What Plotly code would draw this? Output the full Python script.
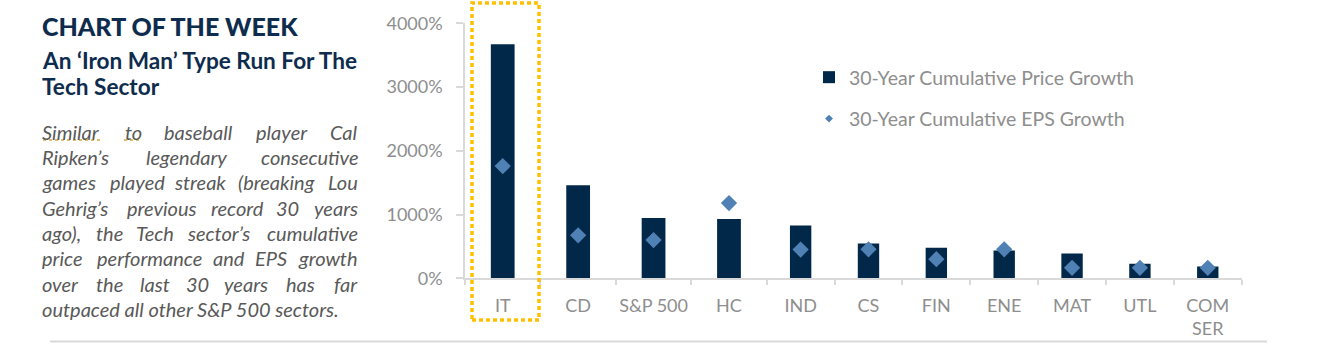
import plotly.graph_objects as go

# ---------------- data ----------------
categories = ["IT", "CD", "S&P 500", "HC", "IND", "CS", "FIN", "ENE", "MAT", "UTL", "COM<br>SER"]
price_growth = [3670, 1460, 945, 930, 830, 545, 480, 435, 390, 230, 185]
eps_growth = [1760, 675, 600, 1180, 450, 455, 300, 455, 165, 165, 165]
y_ticks = [0, 1000, 2000, 3000, 4000]
y_tick_labels = ["0%", "1000%", "2000%", "3000%", "4000%"]
price_name = "30-Year Cumulative Price Growth"
eps_name = "30-Year Cumulative EPS Growth"

title = "CHART OF THE WEEK"
subtitle_lines = ["An ‘Iron Man’ Type Run For The", "Tech Sector"]
body_lines = [
    "Similar to baseball player Cal",
    "Ripken’s legendary consecutive",
    "games played streak (breaking Lou",
    "Gehrig’s previous record 30 years",
    "ago), the Tech sector’s cumulative",
    "price performance and EPS growth",
    "over the last 30 years has far",
    "outpaced all other S&P 500 sectors.",
]

# ---------------- layout helpers ----------------
W, H = 1342, 349
def px(x):
    return x / W
def py(y):
    return 1 - y / H

NAVY = "#012848"
STEEL = "#4F81B4"
GRID = "#D9D9D9"
TICK = "#8E8E8E"
FONT = "Lato"

split = 4  # categories drawn on the wider left segment of the axis
x_left, x_mid, x_right = 465, 766.7, 1241.7
y_zero, y_top = 278.3, 23.3

fig = go.Figure()

fig.add_trace(go.Bar(x=categories[:split], y=price_growth[:split], marker_color=NAVY,
                     width=0.315, name=price_name, legendgroup="a", showlegend=True,
                     xaxis="x", yaxis="y"))
fig.add_trace(go.Bar(x=categories[split:], y=price_growth[split:], marker_color=NAVY,
                     width=0.315, name=price_name, legendgroup="a", showlegend=False,
                     xaxis="x2", yaxis="y"))
fig.add_trace(go.Scatter(x=categories[:split], y=eps_growth[:split], mode="markers",
                         marker=dict(symbol="diamond", size=12.5, color=STEEL),
                         name=eps_name, showlegend=False, xaxis="x", yaxis="y"))
fig.add_trace(go.Scatter(x=categories[split:], y=eps_growth[split:], mode="markers",
                         marker=dict(symbol="diamond", size=12.5, color=STEEL),
                         name=eps_name, showlegend=False, xaxis="x2", yaxis="y"))
# legend entry for the EPS series (smaller symbol as in the reference)
fig.add_trace(go.Scatter(x=[None], y=[None], mode="markers",
                         marker=dict(symbol="diamond", size=6, color=STEEL),
                         name=eps_name, legendgroup="b", showlegend=True,
                         xaxis="x", yaxis="y"))

axis_common = dict(
    type="category", showgrid=False, zeroline=False,
    showline=True, linecolor=GRID, linewidth=2,
    ticks="outside", tickson="boundaries", ticklen=5, tickcolor=GRID, tickwidth=1.5,
    tickfont=dict(family=FONT, size=18, color=TICK), tickangle=0,
    ticklabelstandoff=10, automargin=False, fixedrange=True,
)

fig.update_layout(
    width=W, height=H, template="none",
    paper_bgcolor="white", plot_bgcolor="white",
    margin=dict(l=0, r=0, t=0, b=0),
    barmode="overlay",
    xaxis=dict(domain=[px(x_left), px(x_mid)], anchor="y", **axis_common),
    xaxis2=dict(domain=[px(x_mid), px(x_right)], anchor="y", **axis_common),
    yaxis=dict(domain=[py(y_zero), py(y_top)], anchor="x", range=[0, 4000],
               tickvals=y_ticks, ticktext=y_tick_labels,
               showgrid=False, zeroline=False, showline=True, linecolor=GRID, linewidth=1.5,
               ticks="outside", ticklen=7, tickcolor=GRID, tickwidth=1.5,
               tickfont=dict(family=FONT, size=18, color=TICK),
               ticklabelstandoff=10, automargin=False, fixedrange=True),
    showlegend=True,
    legend=dict(x=px(809), y=py(58), xanchor="left", yanchor="top",
                bgcolor="rgba(0,0,0,0)", borderwidth=0,
                font=dict(family=FONT, size=19.5, color=TICK),
                traceorder="grouped", tracegroupgap=13, itemwidth=30),
)

annotations = []
annotations.append(dict(text=title, x=px(40), y=py(26), xref="paper", yref="paper",
                        xanchor="left", yanchor="middle", showarrow=False,
                        font=dict(family=FONT, size=25, color="#0E2C4D", weight=900)))
for line, yy in zip(subtitle_lines, [61, 87]):
    annotations.append(dict(text=f"<b>{line}</b>", x=px(40), y=py(yy), xref="paper", yref="paper",
                            xanchor="left", yanchor="middle", showarrow=False,
                            font=dict(family=FONT, size=22.6, color="#0E2C4D")))

# justified body paragraph: first word left, last word right, middle words centred
body_y = [131.7, 156.7, 181.7, 207.7, 233.3, 258.3, 284, 309.3]
mid_centres = [
    [133, 198, 281.5],
    [186.5],
    [137, 200, 276.5],
    [161.5, 237, 287.5],
    [110, 154.5, 218.5],
    [149, 229, 271],
    [110, 155, 197.5, 246, 300],
    None,
]
body_font = dict(family=FONT, size=20, color="#595959")
for line, yy, mids in zip(body_lines, body_y, mid_centres):
    if mids is None:
        annotations.append(dict(text=f"<i>{line}</i>", x=px(40), y=py(yy), xref="paper", yref="paper",
                                xanchor="left", yanchor="middle", showarrow=False, font=body_font))
        continue
    words = line.split(" ")
    xs = [40] + mids + [360]
    anchors = ["left"] + ["center"] * len(mids) + ["right"]
    for w, xx, an in zip(words, xs, anchors):
        annotations.append(dict(text=f"<i>{w}</i>", x=px(xx), y=py(yy), xref="paper", yref="paper",
                                xanchor=an, yanchor="middle", showarrow=False, font=body_font))
fig.update_layout(annotations=annotations)

shapes = [
    # highlighted IT column
    dict(type="rect", xref="paper", yref="paper", x0=px(472), x1=px(539), y0=py(320), y1=py(3),
         line=dict(color="#FFC000", width=3.5, dash="4px,3px"), fillcolor="rgba(0,0,0,0)"),
    # bottom rule
    dict(type="line", xref="paper", yref="paper", x0=px(50), x1=px(1267), y0=py(341.5), y1=py(341.5),
         line=dict(color=GRID, width=2)),
    # spell-check underlines
    dict(type="line", xref="paper", yref="paper", x0=px(43), x1=px(103), y0=py(140), y1=py(140),
         line=dict(color="#D8A93A", width=1.5, dash="dot")),
    dict(type="line", xref="paper", yref="paper", x0=px(124), x1=px(142), y0=py(140), y1=py(140),
         line=dict(color="#D8A93A", width=1.5, dash="dot")),
]
fig.update_layout(shapes=shapes)

fig.write_html("out.html")
